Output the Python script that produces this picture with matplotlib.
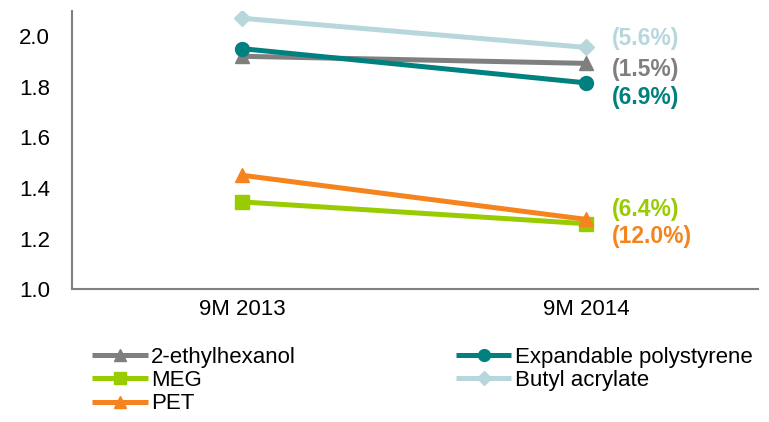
import matplotlib
matplotlib.use("Agg")
import matplotlib.pyplot as plt

plt.rcParams['font.family'] = ['Liberation Sans', 'DejaVu Sans']

categories = ["9M 2013", "9M 2014"]
series_names = ["2-ethylhexanol", "MEG", "PET", "Expandable polystyrene", "Butyl acrylate"]
ethylhexanol = [1.92, 1.892]
meg = [1.345, 1.259]
pet = [1.45, 1.276]
eps = [1.95, 1.815]
butyl = [2.07, 1.955]
changes = ["(1.5%)", "(6.4%)", "(12.0%)", "(6.9%)", "(5.6%)"]
yticks = [1.0, 1.2, 1.4, 1.6, 1.8, 2.0]

colors = ["#7F7F7F", "#99CC00", "#F5841F", "#00807F", "#B7D7DC"]
markers = ["^", "s", "^", "o", "D"]
msizes = [10, 10, 10, 10, 8]
label_y = [1.866, 1.315, 1.209, 1.759, 1.992]

fig = plt.figure(figsize=(7.69, 4.22), dpi=100)
ax = fig.add_axes([72/769, 1-289.3/422, (758-72)/769, 278.6/422])

data = [ethylhexanol, meg, pet, eps, butyl]
x = list(range(len(categories)))
draw_order = [4, 0, 3, 1, 2]
lines = {}
for i in draw_order:
    l, = ax.plot(x, data[i], color=colors[i], lw=3.6, marker=markers[i],
                 markersize=msizes[i], label=series_names[i], solid_capstyle='butt')
    lines[i] = l

for i in range(5):
    ax.text(x[-1] + 0.075, label_y[i], changes[i], color=colors[i], fontsize=16.5,
            fontweight='bold', va='center', ha='left')

ax.set_xlim(-0.496, 1.5)
ax.set_ylim(1.0, 2.1)
ax.set_xticks(x)
ax.set_xticklabels(categories, fontsize=16)
ax.set_yticks(yticks)
ax.set_yticklabels([f"{v:.1f}" for v in yticks], fontsize=16)
ax.tick_params(axis='y', length=0, pad=16)
ax.tick_params(axis='x', length=0, pad=7)
for s in ["top", "right"]:
    ax.spines[s].set_visible(False)
for s in ["left", "bottom"]:
    ax.spines[s].set_color("#808080")
    ax.spines[s].set_linewidth(1.5)

fig.legend([lines[i] for i in range(5)], series_names, ncol=2,
           loc="upper left", bbox_to_anchor=(92/769, 1-347/422),
           frameon=False, fontsize=16, handlelength=2.5, handletextpad=0.15,
           columnspacing=7.2, labelspacing=0.1, borderaxespad=0, borderpad=0,
           markerscale=0.85)

fig.savefig("out.png", dpi=100)
